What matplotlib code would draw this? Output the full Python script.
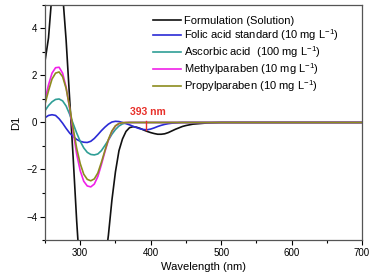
import matplotlib
matplotlib.use("Agg")
import matplotlib.pyplot as plt
from matplotlib.ticker import MultipleLocator

plt.rcParams['font.family'] = ['Liberation Sans', 'DejaVu Sans']

wl = [250, 255, 260, 265, 270, 275, 280, 285, 290, 295, 300, 305, 310, 315, 320,
      325, 330, 335, 340, 345, 350, 355, 360, 365, 370, 375, 380, 385, 390, 395,
      400, 405, 410, 415, 420, 425, 430, 435, 440, 445, 450, 455, 460, 480, 500,
      550, 600, 650, 700]

formulation = [2.6, 3.6, 5.5, 7.5, 7.0, 5.5, 3.5, 1.0, -1.5, -4.2, -6.5, -8.5, -9.5, -10.0, -9.5,
               -8.5, -7.5, -6.0, -4.8, -3.3, -2.1, -1.2, -0.7, -0.38, -0.22, -0.18, -0.2, -0.25, -0.32, -0.38,
               -0.43, -0.47, -0.5, -0.5, -0.48, -0.43, -0.36, -0.29, -0.23, -0.17, -0.13, -0.1, -0.07, -0.02, 0.0,
               0.0, 0.0, 0.0, 0.0]

folic = [0.2, 0.3, 0.33, 0.3, 0.16, -0.03, -0.25, -0.45, -0.6, -0.72, -0.8, -0.84, -0.85, -0.8, -0.68,
         -0.52, -0.35, -0.2, -0.07, 0.02, 0.05, 0.04, 0.0, -0.05, -0.1, -0.16, -0.22, -0.27, -0.3, -0.31,
         -0.28, -0.23, -0.17, -0.12, -0.08, -0.05, -0.03, -0.02, -0.01, 0.0, 0.0, 0.0, 0.0, 0.0, 0.0,
         0.0, 0.0, 0.0, 0.0]

ascorbic = [0.5, 0.72, 0.88, 0.98, 1.0, 0.92, 0.7, 0.35, -0.05, -0.45, -0.8, -1.08, -1.27, -1.36, -1.38,
            -1.34, -1.2, -0.98, -0.75, -0.5, -0.3, -0.15, -0.06, -0.02, 0.0, 0.0, 0.0, 0.0, 0.0, 0.0,
            0.0, 0.0, 0.0, 0.0, 0.0, 0.0, 0.0, 0.0, 0.0, 0.0, 0.0, 0.0, 0.0, 0.0, 0.0,
            0.0, 0.0, 0.0, 0.0]

methyl = [0.95, 1.6, 2.1, 2.33, 2.35, 2.1, 1.5, 0.6, -0.4, -1.35, -2.05, -2.5, -2.7, -2.74, -2.62,
          -2.3, -1.8, -1.25, -0.75, -0.38, -0.15, -0.05, -0.01, 0.0, 0.0, 0.0, 0.0, 0.0, 0.0, 0.0,
          0.0, 0.0, 0.0, 0.0, 0.0, 0.0, 0.0, 0.0, 0.0, 0.0, 0.0, 0.0, 0.0, 0.0, 0.0,
          0.0, 0.0, 0.0, 0.0]

propyl = [0.78, 1.35, 1.85, 2.1, 2.15, 1.95, 1.45, 0.65, -0.25, -1.1, -1.75, -2.2, -2.42, -2.48, -2.4,
          -2.15, -1.7, -1.2, -0.72, -0.36, -0.14, -0.04, -0.01, 0.0, 0.0, 0.0, 0.0, 0.0, 0.0, 0.0,
          0.0, 0.0, 0.0, 0.0, 0.0, 0.0, 0.0, 0.0, 0.0, 0.0, 0.0, 0.0, 0.0, 0.0, 0.0,
          0.0, 0.0, 0.0, 0.0]

labels = ['Formulation (Solution)',
          'Folic acid standard (10 mg L$^{\\mathregular{-1}}$)',
          'Ascorbic acid  (100 mg L$^{\\mathregular{-1}}$)',
          'Methylparaben (10 mg L$^{\\mathregular{-1}}$)',
          'Propylparaben (10 mg L$^{\\mathregular{-1}}$)']
colors = ['#111111', '#2b2bd6', '#2f9e96', '#f020e8', '#8c8c1e']

fig = plt.figure(figsize=(3.73, 2.76), dpi=100)
ax = fig.add_axes([0.1206, 0.1304, 0.85, 0.8516])

for y, c, lab in zip([formulation, folic, ascorbic, methyl, propyl], colors, labels):
    ax.plot(wl, y, color=c, lw=1.2, label=lab)

# 393 nm marker
ax.plot([393, 393], [-0.3, 0.05], color='#e8302a', lw=1.0)
ax.text(396, 0.43, '393 nm', color='#e8302a', fontsize=7.5, fontweight='bold',
        ha='center', va='center')

ax.set_xlim(250, 700)
ax.set_ylim(-5, 5)
ax.xaxis.set_major_locator(MultipleLocator(100))
ax.xaxis.set_minor_locator(MultipleLocator(50))
ax.yaxis.set_major_locator(MultipleLocator(2))
ax.yaxis.set_minor_locator(MultipleLocator(1))
ax.tick_params(which='major', direction='out', length=3.5, width=0.8, labelsize=7, pad=2)
ax.tick_params(which='minor', direction='out', length=2, width=0.8)
for s in ax.spines.values():
    s.set_color('#555555')
    s.set_linewidth(0.9)

ax.set_xlabel('Wavelength (nm)', fontsize=8, labelpad=3)
ax.set_ylabel('D1', fontsize=8, labelpad=4)

ax.legend(loc='upper left', bbox_to_anchor=(0.34, 0.955), frameon=False,
          fontsize=8, handlelength=2.5, handletextpad=0.3, labelspacing=0.12,
          borderpad=0, borderaxespad=0)

fig.savefig('out.png', dpi=100)
